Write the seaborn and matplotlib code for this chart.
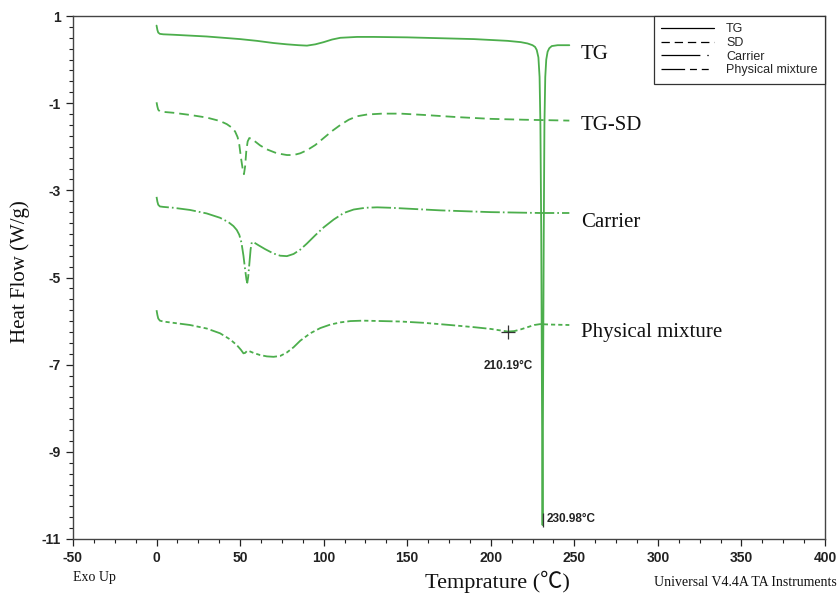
import matplotlib
matplotlib.use("Agg")
import matplotlib.pyplot as plt
from matplotlib.lines import Line2D
from matplotlib.ticker import MultipleLocator
import seaborn as sns

# ---------------- data ----------------
tg_T = [0, 0.5, 1, 2, 4, 10, 20, 30, 40, 50, 60, 70, 78, 85, 90, 95, 100, 105, 110,
        120, 130, 150, 170, 190, 200, 210, 218, 222, 225, 226.5, 227.5, 228.5, 229.2,
        229.7, 230.2, 230.6, 230.98, 231.3, 231.7, 232.1, 232.6, 233.2, 234, 235,
        236.5, 240, 247]
tg_H = [0.78, 0.68, 0.62, 0.59, 0.58, 0.57, 0.55, 0.53, 0.50, 0.47, 0.43, 0.38, 0.35,
        0.33, 0.32, 0.35, 0.40, 0.46, 0.50, 0.52, 0.52, 0.51, 0.49, 0.47, 0.45, 0.43,
        0.40, 0.37, 0.33, 0.29, 0.22, 0.05, -0.4, -1.5, -4.0, -7.5, -10.68, -7.5, -4.0,
        -1.5, -0.4, 0.0, 0.18, 0.26, 0.31, 0.33, 0.33]

sd_T = [0, 0.5, 1, 2, 4, 10, 20, 30, 38, 42, 45, 47, 48.5, 49.5, 50.5, 51.5, 52.3,
        53, 53.7, 54.5, 55.5, 57, 59, 62, 66, 72, 78, 82, 86, 90, 95, 100, 105, 110,
        115, 120, 126, 135, 146, 160, 180, 200, 220, 247]
sd_H = [-0.98, -1.08, -1.15, -1.19, -1.20, -1.22, -1.27, -1.33, -1.41, -1.48, -1.56,
        -1.65, -1.78, -1.95, -2.25, -2.50, -2.63, -2.45, -2.10, -1.88, -1.80, -1.82,
        -1.88, -1.97, -2.06, -2.15, -2.19, -2.19, -2.15, -2.08, -1.96, -1.80, -1.64,
        -1.50, -1.38, -1.30, -1.26, -1.24, -1.24, -1.27, -1.32, -1.36, -1.38, -1.40]

ca_T = [0, 0.5, 1, 2, 4, 10, 20, 30, 38, 43, 46, 48, 49.5, 50.8, 52, 53, 53.8, 54.3,
        54.8, 55.5, 56.3, 57, 58.5, 61, 65, 70, 74, 78, 82, 86, 90, 95, 100, 106, 112,
        118, 125, 132, 140, 150, 170, 200, 230, 247]
ca_H = [-3.15, -3.26, -3.33, -3.37, -3.38, -3.40, -3.45, -3.53, -3.63, -3.73, -3.82,
        -3.91, -4.02, -4.20, -4.50, -4.82, -5.05, -5.12, -5.00, -4.70, -4.35, -4.19,
        -4.20, -4.26, -4.35, -4.45, -4.50, -4.51, -4.46, -4.36, -4.22, -4.03, -3.85,
        -3.67, -3.52, -3.44, -3.40, -3.39, -3.40, -3.42, -3.46, -3.50, -3.52, -3.52]

pm_T = [0, 0.5, 1, 2, 4, 10, 20, 30, 38, 44, 48, 50.5, 52, 53, 54.3, 55.5, 58, 62, 66,
        70, 74, 78, 82, 86, 92, 98, 104, 110, 116, 123.5, 135, 146, 160, 175.6, 190,
        200, 205, 210.19, 214, 218, 222, 226, 229.5, 236, 247]
pm_H = [-5.75, -5.86, -5.94, -5.99, -6.01, -6.04, -6.09, -6.17, -6.28, -6.42, -6.55,
        -6.66, -6.74, -6.73, -6.68, -6.69, -6.73, -6.78, -6.81, -6.82, -6.80, -6.72,
        -6.60, -6.45, -6.28, -6.16, -6.08, -6.03, -6.00, -5.99, -6.00, -6.01, -6.04,
        -6.09, -6.14, -6.18, -6.21, -6.24, -6.23, -6.19, -6.14, -6.09, -6.07, -6.08,
        -6.09]

curve_labels = ["TG", "TG-SD", "Carrier", "Physical mixture"]
legend_labels = ["TG", "SD", "Carrier", "Physical mixture"]
label_y = [0.12, -1.52, -3.73, -6.27]
label_x = 254

onset_T, onset_H = 210.19, -6.24
peak_T, peak_H = 230.98, -10.68

x_ticks = [-50, 0, 50, 100, 150, 200, 250, 300, 350, 400]
y_ticks = [1, -1, -3, -5, -7, -9, -11]

# ---------------- style ----------------
sns.set_style("ticks")
plt.rcParams["font.family"] = ["Liberation Sans", "DejaVu Sans"]
plt.rcParams["lines.scale_dashes"] = False

green = "#4cae4c"
serif = ["Liberation Serif", "Noto Sans CJK SC", "DejaVu Serif"]

fig = plt.figure(figsize=(8.4, 5.95), dpi=100)
ax = fig.add_axes([73 / 840, 1 - 539 / 595, 752 / 840, 523 / 595])

styles = [
    "-",
    (0, (7, 3.6)),
    (0, (14, 2.2, 1.2, 2.2)),
    (0, (10, 2.2, 3, 2.2, 3, 2.2)),
]
series = [(tg_T, tg_H), (sd_T, sd_H), (ca_T, ca_H), (pm_T, pm_H)]
for (T, H), ls in zip(series, styles):
    sns.lineplot(x=T, y=H, ax=ax, color=green, linewidth=1.3, linestyle=ls,
                 estimator=None, sort=False)

# annotations
ax.plot([onset_T], [onset_H], marker="+", color="#333333", markersize=10,
        markeredgewidth=0.9, linestyle="none")
ax.text(onset_T, onset_H - 0.8, f"{onset_T:.2f}°C", ha="center", va="center",
        fontsize=8.5, fontweight="bold", color="#222222")
ax.plot([peak_T + 0.3], [peak_H + 0.12], marker="|", color="#333333", markersize=10,
        markeredgewidth=0.9, linestyle="none")
ax.text(peak_T + 2.5, peak_H + 0.14, f"{peak_T:.2f}°C", ha="left", va="center",
        fontsize=8.5, fontweight="bold", color="#222222")

for lab, yy in zip(curve_labels, label_y):
    ax.text(label_x, yy, lab, ha="left", va="center", fontsize=15,
            family=serif, color="#111111")

# axes
ax.set_xlim(-50, 400)
ax.set_ylim(-11, 1)
ax.set_xticks(x_ticks)
ax.set_yticks(y_ticks)
ax.set_xticklabels([str(v) for v in x_ticks])
ax.set_yticklabels([str(v) for v in y_ticks])
ax.xaxis.set_minor_locator(MultipleLocator(12.5))
ax.yaxis.set_minor_locator(MultipleLocator(0.25))
ax.tick_params(axis="both", which="major", direction="out", length=5, width=0.9,
               labelsize=10, colors="#222222", pad=4)
ax.tick_params(axis="both", which="minor", direction="out", length=3, width=0.8,
               colors="#222222")
for lbl in ax.get_xticklabels() + ax.get_yticklabels():
    lbl.set_fontweight("bold")
for sp in ax.spines.values():
    sp.set_visible(True)
    sp.set_color("#444444")
    sp.set_linewidth(1.0)
ax.set_xlabel("")
ax.set_ylabel("")

# legend
handles = [
    Line2D([], [], color="black", lw=0.9, linestyle="-"),
    Line2D([], [], color="black", lw=0.9, linestyle=(0, (6, 3.5))),
    Line2D([], [], color="black", lw=0.9, linestyle=(0, (28, 5, 1, 10))),
    Line2D([], [], color="black", lw=0.9, linestyle=(0, (17, 3.5, 5, 3.5, 5, 10))),
]
leg = ax.legend(handles, legend_labels, loc="upper right", bbox_to_anchor=(1, 1),
                borderaxespad=0, frameon=True, fancybox=False, edgecolor="#333333",
                framealpha=1, fontsize=9, handlelength=4.2, handletextpad=1.0,
                labelspacing=0.12, borderpad=0.6)
leg.get_frame().set_linewidth(0.9)

# figure texts
fig.text(20 / 840, 1 - 272 / 595, "Heat Flow (W/g)", rotation=90, ha="center",
         va="center", fontsize=15, family=serif, color="#111111")
fig.text(497 / 840, 1 - 582 / 595, "Temprature (℃)", ha="center", va="center",
         fontsize=16, family=serif, color="#111111")
fig.text(73 / 840, 1 - 578 / 595, "Exo Up", ha="left", va="center", fontsize=10,
         family=serif, color="#111111")
fig.text(837 / 840, 1 - 583 / 595, "Universal V4.4A TA Instruments", ha="right",
         va="center", fontsize=10, family=serif, color="#111111")

fig.savefig("out.png", dpi=100)
